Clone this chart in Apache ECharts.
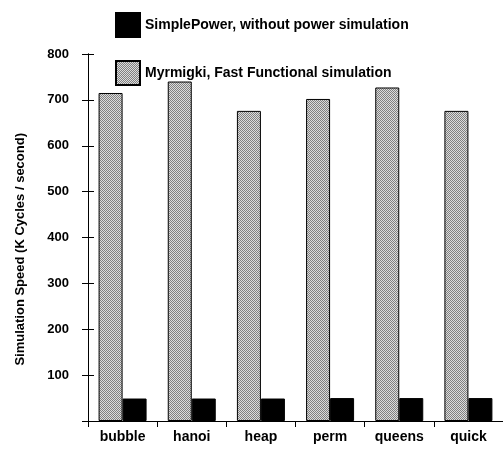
<!DOCTYPE html>
<html>
<head>
<meta charset="utf-8">
<script src="https://cdn.jsdelivr.net/npm/echarts@6/dist/echarts.min.js"></script>
<style>
  html, body { margin: 0; padding: 0; background: #fff; }
  #chart { width: 503px; height: 451px; }
</style>
</head>
<body>
<div id="chart"></div>
<script>
const categories = ['bubble', 'hanoi', 'heap', 'perm', 'queens', 'quick'];
const myrmigki = [715, 740, 676, 702, 727, 676];
const simplePower = [49, 49, 49, 50, 50, 50];
const yTicks = [100, 200, 300, 400, 500, 600, 700, 800];

// checkered grey fill like the printed halftone
function makeDots() {
  const c = document.createElement('canvas');
  c.width = 2;
  c.height = 2;
  const ctx = c.getContext('2d');
  ctx.fillStyle = '#dcdcdc';
  ctx.fillRect(0, 0, 2, 2);
  ctx.fillStyle = '#808080';
  ctx.fillRect(0, 0, 1, 1);
  ctx.fillRect(1, 1, 1, 1);
  return c;
}

const font = 'Liberation Sans, Arial, sans-serif';
const chart = echarts.init(document.getElementById('chart'));

const baseY = {
  type: 'value',
  min: 0,
  max: 800,
  interval: 100,
  axisLine: { show: true, lineStyle: { color: '#000', width: 1 } },
  splitLine: { show: false }
};

chart.setOption({
  animation: false,
  textStyle: { fontFamily: font },
  legend: {
    orient: 'vertical',
    left: 110,
    top: 7,
    icon: 'rect',
    itemWidth: 24,
    itemHeight: 24,
    itemGap: 22,
    data: ['SimplePower, without power simulation', 'Myrmigki, Fast Functional simulation'],
    textStyle: { fontSize: 14, fontWeight: 'bold', color: '#000', fontFamily: font }
  },
  grid: { left: 88, right: -11, top: 54, bottom: 30 },
  graphic: [{
    type: 'text',
    left: 14,
    top: 133,
    rotation: Math.PI / 2,
    style: {
      text: 'Simulation Speed (K Cycles / second)',
      font: 'bold 13px ' + font,
      fill: '#000'
    }
  }],
  xAxis: {
    type: 'category',
    data: categories,
    axisLine: { lineStyle: { color: '#000', width: 1 } },
    axisTick: { show: true, length: 6, lineStyle: { color: '#000' } },
    axisLabel: { color: '#000', fontSize: 14, fontWeight: 'bold', margin: 9 }
  },
  yAxis: [
    Object.assign({}, baseY, {
      axisTick: { show: true, length: 6, lineStyle: { color: '#000' } },
      axisLabel: {
        color: '#000',
        fontSize: 13,
        fontWeight: 'bold',
        margin: 19,
        formatter: v => (yTicks.includes(v) ? String(v) : '')
      }
    }),
    Object.assign({}, baseY, {
      position: 'left',
      axisTick: { show: true, inside: true, length: 6, lineStyle: { color: '#000' } },
      axisLabel: { show: false }
    })
  ],
  series: [
    {
      name: 'Myrmigki, Fast Functional simulation',
      type: 'bar',
      data: myrmigki,
      barWidth: 24,
      barGap: '0%',
      itemStyle: {
        color: { image: makeDots(), repeat: 'repeat' },
        borderColor: '#000',
        borderWidth: 1
      }
    },
    {
      name: 'SimplePower, without power simulation',
      type: 'bar',
      data: simplePower,
      barWidth: 24,
      barGap: '0%',
      itemStyle: { color: '#000', borderColor: '#000', borderWidth: 1 }
    }
  ]
});
</script>
</body>
</html>
